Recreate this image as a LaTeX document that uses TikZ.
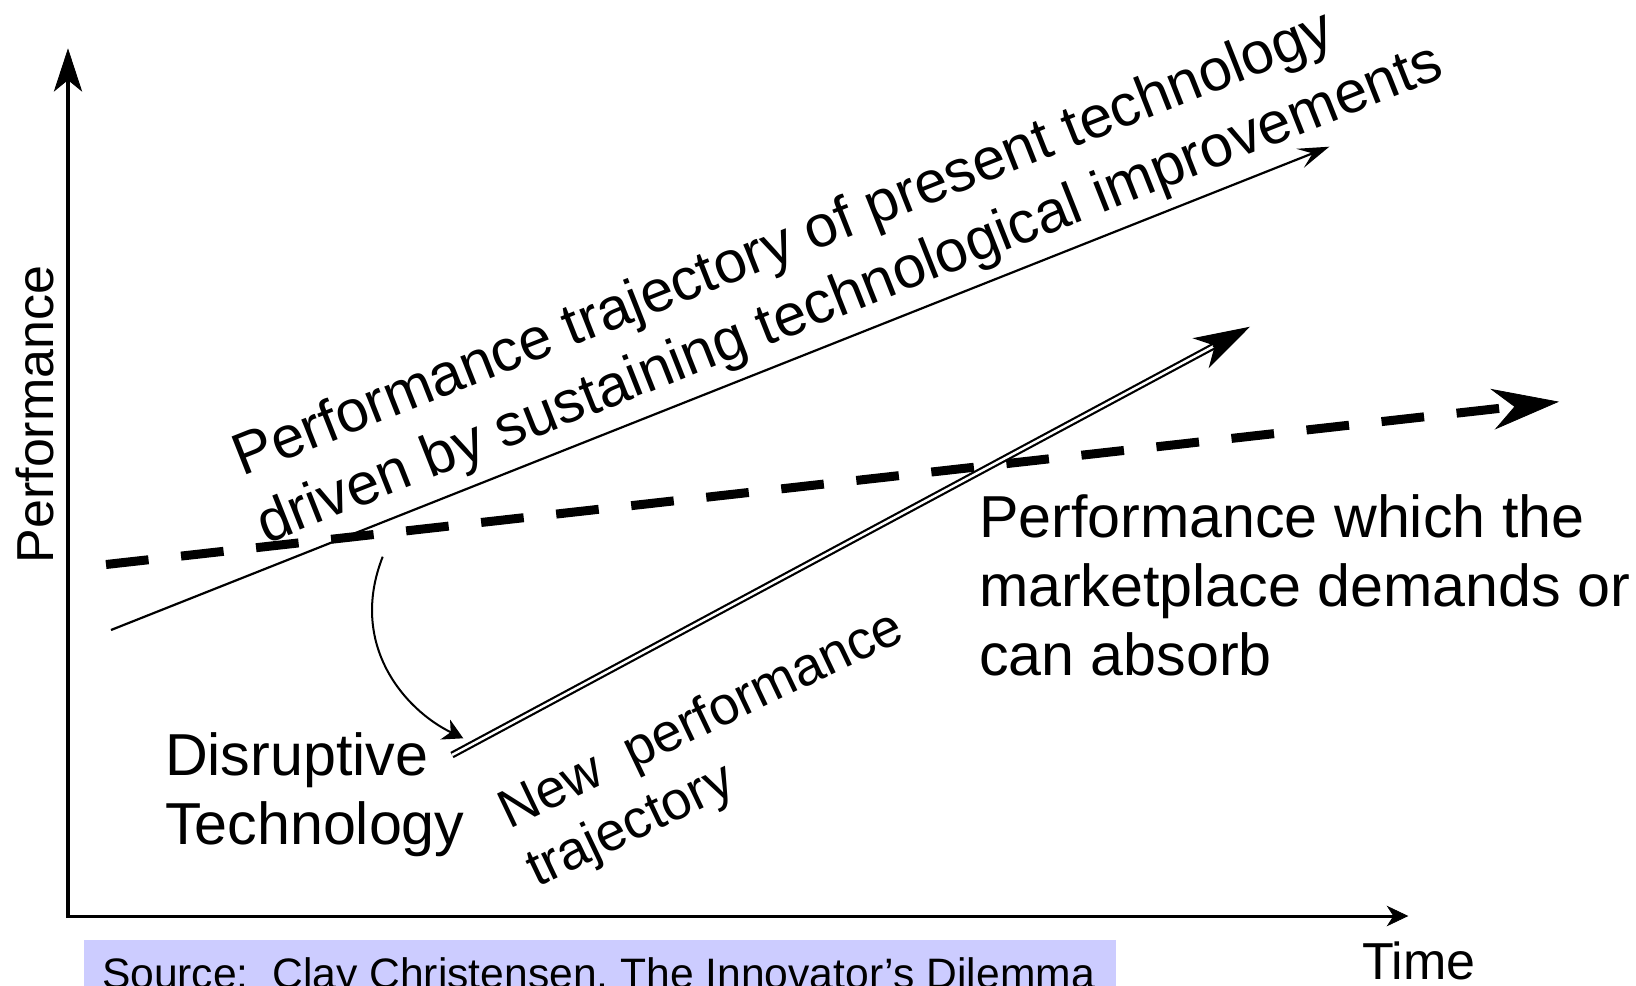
\documentclass[tikz,border=0pt]{standalone}
\usepackage{fontspec}
\setmainfont{Liberation Sans}
\usetikzlibrary{arrows.meta,calc}
\definecolor{srcbox}{HTML}{CCCCFF}
\newcommand\fBig{\fontsize{29.6pt}{35pt}\selectfont}
\newcommand\fRot{\fontsize{29.5pt}{35pt}\selectfont}
\newcommand\fNew{\fontsize{27pt}{32pt}\selectfont}
\newcommand\fAxis{\fontsize{26pt}{31pt}\selectfont}
\newcommand\fSrc{\fontsize{21.3pt}{25pt}\selectfont}
\begin{document}
\begin{tikzpicture}[x=0.5pt,y=-0.5pt,
  txt/.style={inner sep=0pt, outer sep=0pt, anchor=base west, text=black},
  sustline/.style={line width=1.1pt, -{Stealth[length=15.7pt,width=10.2pt,inset=6.7pt]}},
  demandline/.style={line width=4.5pt, dash pattern=on 21.4pt off 16.35pt,
     -{Stealth[length=33.5pt,width=20.5pt,inset=11pt,line width=0.4pt]}},
  disline/.style={line width=1.1pt, double, double distance=1.25pt},
  distip/.style={line width=1pt, -{Stealth[length=28pt,width=17pt,inset=8pt]}},
  curvearrow/.style={line width=1pt, -{Stealth[length=10pt,width=11pt,inset=3pt]}}]
\useasboundingbox (0,0) rectangle (1636,985);
\fill[white] (0,0) rectangle (1636,985);

% source box
\fill[srcbox] (84,940) rectangle (1116,992);
\node[txt, font=\fSrc] (src) at (102,988) {Source:\ \ Clay Christensen, The Innovator’s Dilemma};

% axes
\coordinate (ybot) at (68,918);
\coordinate (ytip) at (68,48.3);
\coordinate (xleft) at (66,916);
\coordinate (xtip) at (1408.3,916);
\draw[line width=2pt, -{Stealth[length=21.7pt,width=14.2pt,inset=5.8pt,line width=0.4pt]}] (ybot) -- (ytip);
\draw[line width=1.5pt, -{Stealth[length=10.8pt,width=10.3pt,inset=3.3pt,line width=0.4pt]}] (xleft) -- (xtip);

% sustaining trajectory
\coordinate (sA) at (111,630);
\coordinate (sB) at (1329.3,146.7);
\draw[sustline] (sA) -- (sB);

% market demand (dashed)
\coordinate (mA) at (106,564.5);
\coordinate (mB) at (1559,401.7);
\draw[demandline] (mA) -- (mB);

% disruptive trajectory (double)
\coordinate (dA) at (452,755);
\coordinate (dB) at (1250,326.7);
\draw[disline] (dA) -- ($(dB)!20pt!(dA)$);
\draw[distip] ($(dB)!21pt!(dA)$) -- (dB);

% curved arrow
\coordinate (cA) at (382.7,556.7);
\coordinate (cB) at (463.3,738.3);
\draw[curvearrow] (cA) .. controls (348,645) and (405,710) .. (cB);

% texts
\node[txt, font=\fRot, rotate=21.6] (sus1) at (242.7,476.8) {Performance trajectory of present technology};
\node[txt, font=\fRot, rotate=21.6] (sus2) at (266,544) {driven by sustaining technological improvements};
\node[txt, font=\fBig] (dis1) at (165,775) {Disruptive};
\node[txt, font=\fBig] (dis2) at (165,844) {Technology};
\node[txt, font=\fBig] (mk1) at (979,537) {Performance which the};
\node[txt, font=\fBig] (mk2) at (979,606) {marketplace demands or};
\node[txt, font=\fBig] (mk3) at (979,675) {can absorb};
\node[txt, font=\fNew, rotate=25.5] (np1) at (509,829) {New\ \ performance};
\node[txt, font=\fNew, rotate=25.5] (np2) at (537,887.7) {trajectory};
\node[inner sep=0pt, outer sep=0pt, anchor=base, rotate=90, font=\fAxis] (ylab) at (53,414.5) {Performance};
\node[txt, font=\fAxis] (xlab) at (1362,979) {Time};
\end{tikzpicture}
\end{document}
